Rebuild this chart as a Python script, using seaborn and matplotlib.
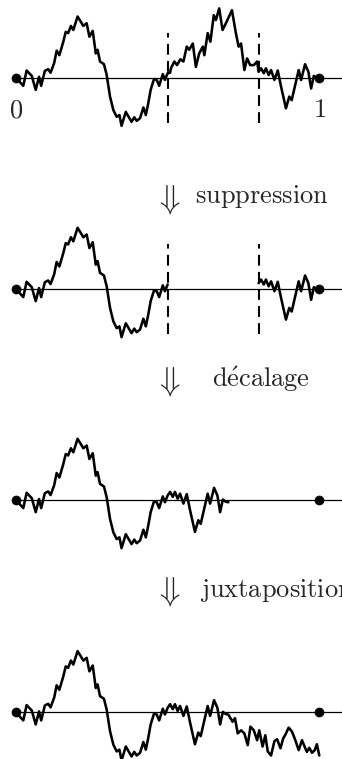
import numpy as np
import pandas as pd
import matplotlib
matplotlib.use("Agg")
import matplotlib.pyplot as plt
import seaborn as sns

# ---- data -------------------------------------------------------------
t = [0.000,0.024,0.035,0.052,0.065,0.076,0.083,0.095,0.106,0.114,
     0.126,0.134,0.143,0.156,0.164,0.172,0.181,0.189,0.203,0.214,
     0.222,0.233,0.242,0.253,0.263,0.269,0.277,0.290,0.299,0.310,
     0.321,0.332,0.341,0.348,0.362,0.374,0.381,0.390,0.398,0.409,
     0.420,0.428,0.436,0.444,0.455,0.464,0.472,0.484,0.491,0.500,
     0.508,0.511,0.522,0.531,0.542,0.552,0.563,0.571,0.583,0.593,
     0.604,0.616,0.621,0.632,0.641,0.652,0.659,0.670,0.681,0.692,
     0.712,0.725,0.734,0.742,0.753,0.762,0.772,0.784,0.795,0.800,
     0.808,0.817,0.824,0.833,0.841,0.852,0.863,0.874,0.890,0.901,
     0.909,0.923,0.932,0.940,0.953,0.964,0.973,0.982,0.992,1.000]
w = [0.00,-0.18,0.16,0.04,-0.27,0.02,-0.18,0.15,0.19,0.11,
     0.33,0.60,0.50,0.80,1.02,0.99,1.15,1.06,1.36,1.24,
     1.15,1.21,0.91,1.04,0.54,0.62,0.36,0.30,0.06,-0.42,
     -0.72,-0.87,-0.83,-1.07,-0.76,-0.90,-0.98,-0.88,-0.96,-0.90,
     -0.66,-0.83,-0.57,-0.27,-0.03,-0.05,-0.18,0.08,-0.05,0.10,
     0.11,0.21,0.36,0.28,0.41,0.36,0.69,0.62,0.76,0.24,
     0.54,0.69,0.50,0.99,0.80,1.39,1.28,1.54,1.06,1.21,
     1.50,0.99,0.69,0.76,0.17,0.43,0.28,0.28,0.36,0.13,
     0.21,0.10,0.21,0.06,0.17,-0.05,0.16,-0.20,-0.68,-0.42,
     -0.50,-0.09,0.17,-0.05,0.30,0.13,-0.24,0.04,-0.01,-0.02]
a_cut, b_cut = 0.5, 0.8

tail_t = [0.714,0.722,0.731,0.742,0.753,0.764,0.773,0.784,0.795,0.802,
          0.813,0.822,0.830,0.841,0.852,0.861,0.872,0.881,0.888,0.899,
          0.910,0.921,0.932,0.943,0.952,0.959,0.967,0.976,0.985,0.992,1.000]
tail_w = [-0.21,-0.13,-0.47,-0.40,-0.47,-0.73,-0.32,-0.40,-0.62,-0.40,
          -0.76,-0.51,-0.87,-0.96,-0.64,-0.60,-0.80,-0.58,-0.50,-0.34,
          -0.43,-0.62,-0.84,-0.62,-0.77,-0.88,-0.79,-0.90,-0.84,-0.71,-0.96]

captions = [r"$\mathrm{suppression}$", r"$\mathrm{d\acute{e}calage}$",
            r"$\mathrm{juxtaposition}$"]
end_labels = [r"$0$", r"$1$"]

# ---- derived paths ----------------------------------------------------
path = pd.DataFrame({"t": t, "w": w})
left = path[path.t <= a_cut]
right = path[path.t >= b_cut]
w_a = float(path.loc[path.t == a_cut, "w"].iloc[0])
w_b = float(path.loc[path.t == b_cut, "w"].iloc[0])
shifted = pd.DataFrame({"t": right.t - (b_cut - a_cut),
                        "w": right.w - w_b + w_a})
path3 = pd.concat([left, shifted], ignore_index=True)
path4 = pd.concat([path3, pd.DataFrame({"t": tail_t, "w": tail_w})],
                  ignore_index=True)

# ---- figure -----------------------------------------------------------
sns.set_theme(style="white")
plt.rcParams["mathtext.fontset"] = "cm"

FW, FH = 342, 759
fig = plt.figure(figsize=(FW / 100, FH / 100), dpi=100)
x0_px, span_px, unit_px, half = 16.0, 303.3, 45.0, 90.0


def panel(base_px):
    ax = fig.add_axes([0, 1 - (base_px + half) / FH, 1, 2 * half / FH])
    ax.set_xlim(-x0_px / span_px, (FW - x0_px) / span_px)
    ax.set_ylim(-half / unit_px, half / unit_px)
    ax.axis("off")
    ax.hlines(0, 0, ax.get_xlim()[1], color="black", lw=0.9, clip_on=False)
    sns.scatterplot(x=[t[0], t[-1]], y=[0, 0], ax=ax, color="black", s=42,
                    edgecolor="black", zorder=5, clip_on=False, legend=False)
    return ax


def draw(ax, df):
    sns.lineplot(data=df, x="t", y="w", ax=ax, sort=False, estimator=None,
                 color="black", lw=1.85, clip_on=False)


def dashes(ax):
    for c in (a_cut, b_cut):
        ax.vlines(c, -1, 1, color="black", lw=1.5, linestyles=(0, (5.2, 3.0)),
                  clip_on=False)


bases = [77.7, 289.0, 500.0, 712.3]

ax1 = panel(bases[0])
draw(ax1, path)
dashes(ax1)
for lab, tt in zip(end_labels, (t[0], t[-1])):
    fig.text((x0_px + tt * span_px) / FW, 1 - 117 / FH, lab, ha="center",
             va="baseline", fontsize=19)

ax2 = panel(bases[1])
draw(ax2, left)
draw(ax2, right)
dashes(ax2)

ax3 = panel(bases[2])
draw(ax3, path3)

ax4 = panel(bases[3])
draw(ax4, path4)

arrow_y = [199, 381, 592]
text_x = [195, 212, 200]
text_y = [203, 387, 597]
for ay, tx, ty, cap in zip(arrow_y, text_x, text_y, captions):
    fig.text(168 / FW, 1 - ay / FH, r"$\Downarrow$", ha="center",
             va="center", fontsize=24)
    fig.text(tx / FW, 1 - ty / FH, cap, ha="left", va="baseline",
             fontsize=19)

for ax in (ax1, ax2, ax3, ax4):
    ax.set_xlabel("")
    ax.set_ylabel("")

fig.savefig("out.png", dpi=100)
